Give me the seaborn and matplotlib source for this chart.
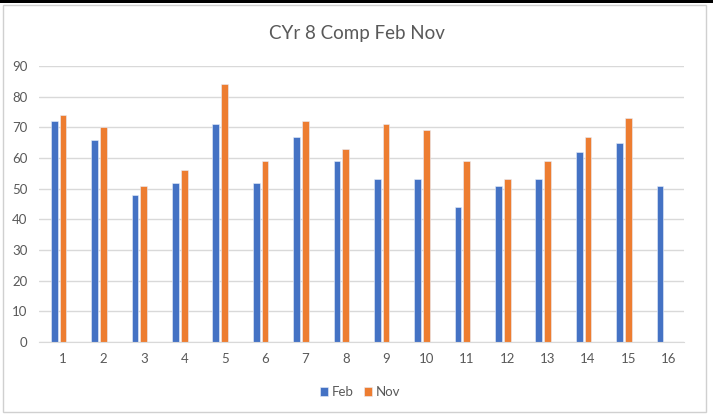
import pandas as pd
import matplotlib.pyplot as plt
import matplotlib.transforms as mtransforms
import seaborn as sns
from matplotlib.patches import Rectangle

# dane z wykresu
categories = [str(i) for i in range(1, 17)]
feb = [72, 66, 48, 52, 71, 52, 67, 59, 53, 53, 44, 51, 53, 62, 65, 51]
nov = [74, 70, 51, 56, 84, 59, 72, 63, 71, 69, 59, 53, 59, 67, 73, None]
yticks = list(range(0, 100, 10))

df = pd.DataFrame({'cat': categories * 2,
                   'value': feb + nov,
                   'series': ['Feb'] * len(feb) + ['Nov'] * len(nov)})

sns.set_style("white")
plt.rcParams['font.family'] = ['Lato', 'DejaVu Sans']

fig = plt.figure(figsize=(7.13, 4.19), dpi=100)
ax = fig.add_axes([0.054, 0.1838, 0.906, 0.6587])

sns.barplot(data=df, x='cat', y='value', hue='series', order=categories,
            palette={'Feb': '#4472C4', 'Nov': '#ED7D31'}, saturation=1,
            width=0.43, gap=0.22, ax=ax, edgecolor='#e8eefa', linewidth=0.4)

ax.set_ylim(0, 90)
ax.set_yticks(yticks)
ax.set_xlim(-0.5, 15.5)
ax.yaxis.grid(True, color='#d9d9d9', linewidth=1)
ax.set_axisbelow(True)
for s in ['top', 'right', 'left']:
    ax.spines[s].set_visible(False)
ax.spines['bottom'].set_color('#d9d9d9')
ax.set_xlabel('')
ax.set_ylabel('')
ax.tick_params(axis='both', length=0, labelsize=9.5, labelcolor='#595959')
ax.tick_params(axis='x', pad=8)
ax.tick_params(axis='y', pad=8)

# etykiety osi X lekko w prawo jak w Excelu
shift = mtransforms.ScaledTranslation(0.045, 0, fig.dpi_scale_trans)
for lbl in ax.get_xticklabels():
    lbl.set_transform(lbl.get_transform() + shift)

ax.legend_.remove()
handles, labels = ax.get_legend_handles_labels()
fig.legend(handles, labels, loc='center', bbox_to_anchor=(0.505, 0.064),
           ncol=2, frameon=False, fontsize=9.5, handlelength=0.6,
           handleheight=0.6, columnspacing=0.8, handletextpad=0.3,
           labelcolor='#595959')

fig.text(0.5, 0.92, 'CYr 8 Comp Feb Nov', ha='center', va='center',
         fontsize=13.5, color='#595959')

# ramka
fig.patches.append(Rectangle((0.004, 0.017), 0.986, 0.97, transform=fig.transFigure,
                             fill=False, edgecolor='#d0d0d0', linewidth=1))
fig.patches.append(Rectangle((0, 0.993), 1, 0.007, transform=fig.transFigure,
                             facecolor='black', edgecolor='none'))

plt.savefig('out.png', dpi=100)
